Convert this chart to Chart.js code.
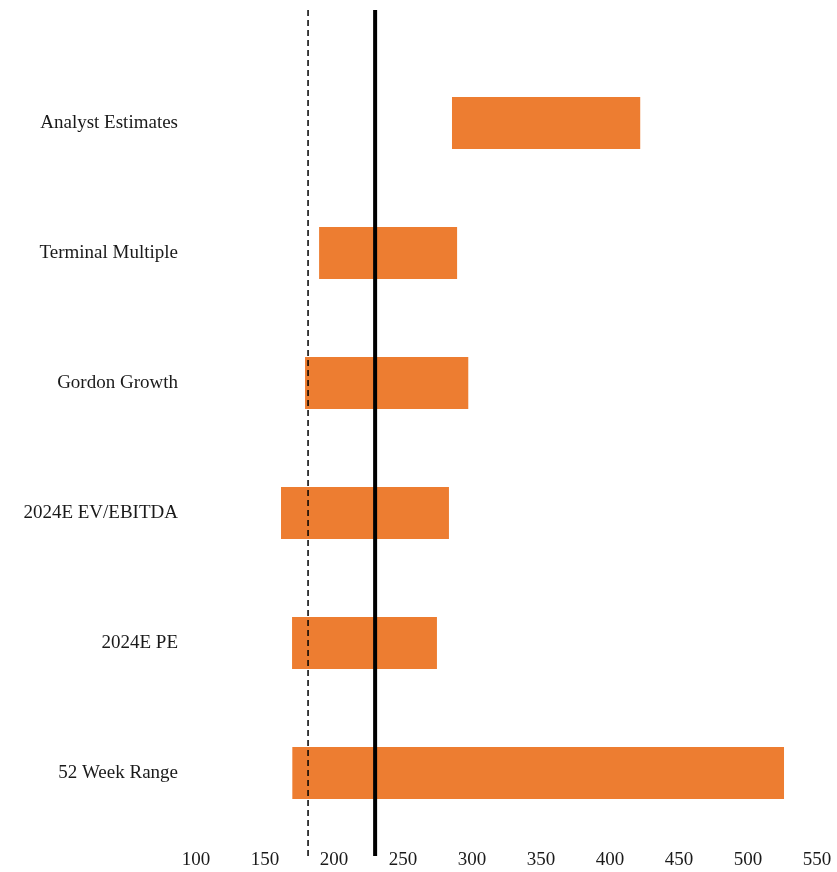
<!DOCTYPE html>
<html>
<head>
<meta charset="utf-8">
<script src="https://cdn.jsdelivr.net/npm/chart.js@4/dist/chart.umd.min.js"></script>
<style>
	html, body { margin: 0; padding: 0; background: #fff; }
	#wrap { width: 837px; height: 872px; }
</style>
</head>
<body>
<div id="wrap"><canvas id="fieldChart" width="837" height="872"></canvas></div>
<script>
const methods = [
	"Analyst Estimates",
	"Terminal Multiple",
	"Gordon Growth",
	"2024E EV/EBITDA",
	"2024E PE",
	"52 Week Range",
];
const lowValues = [285.5, 189.2, 179.0, 161.6, 169.6, 169.8];
const highValues = [421.9, 289.2, 297.3, 283.3, 274.6, 526.1];
const currentPrice = 229.8; // solid line
const floorPrice = 181.2; // dashed line
const xTicks = [100, 150, 200, 250, 300, 350, 400, 450, 500, 550];

const fontFamily = '"Liberation Serif", "DejaVu Serif", serif';
const textColor = "#1a1a1a";

// lineas verticales dibujadas con la escala x
const refLines = {
	id: "refLines",
	afterDatasetsDraw(chart) {
		const { ctx, chartArea, scales } = chart;
		const top = chartArea.top - 48;
		const bottom = chartArea.bottom + 18;

		const drawLine = (value, width, dash) => {
			const x = scales.x.getPixelForValue(value);
			ctx.save();
			ctx.beginPath();
			ctx.lineWidth = width;
			ctx.strokeStyle = "#000";
			ctx.setLineDash(dash);
			ctx.moveTo(x, top);
			ctx.lineTo(x, bottom);
			ctx.stroke();
			ctx.restore();
		};

		drawLine(floorPrice, 1.5, [6, 4]);
		drawLine(currentPrice, 4, []);
	},
};

const ctx = document.getElementById("fieldChart").getContext("2d");
new Chart(ctx, {
	type: "bar",
	data: {
		labels: methods,
		datasets: [
			{
				data: methods.map((_, i) => [lowValues[i], highValues[i]]),
				backgroundColor: "#ED7D31",
				borderWidth: 0,
				barPercentage: 0.4,
				categoryPercentage: 1,
			},
		],
	},
	options: {
		indexAxis: "y",
		responsive: false,
		animation: false,
		layout: { padding: { top: 58, right: 20, left: 0, bottom: 0 } },
		plugins: {
			legend: { display: false },
			tooltip: { enabled: false },
		},
		scales: {
			x: {
				min: 100,
				max: 550,
				afterBuildTicks: (scale) => {
					scale.ticks = xTicks.map((v) => ({ value: v }));
				},
				afterFit: (scale) => {
					scale.height = 34;
					scale.paddingLeft = 0;
					scale.paddingRight = 0;
				},
				grid: { display: false, tickLength: 0 },
				border: { display: false },
				ticks: {
					padding: 11,
					color: textColor,
					font: { family: fontFamily, size: 19 },
				},
			},
			y: {
				afterFit: (scale) => {
					scale.width = 196;
				},
				grid: { display: false, tickLength: 0 },
				border: { display: false },
				ticks: {
					padding: 18,
					color: textColor,
					font: { family: fontFamily, size: 19 },
				},
			},
		},
	},
	plugins: [refLines],
});
</script>
</body>
</html>
